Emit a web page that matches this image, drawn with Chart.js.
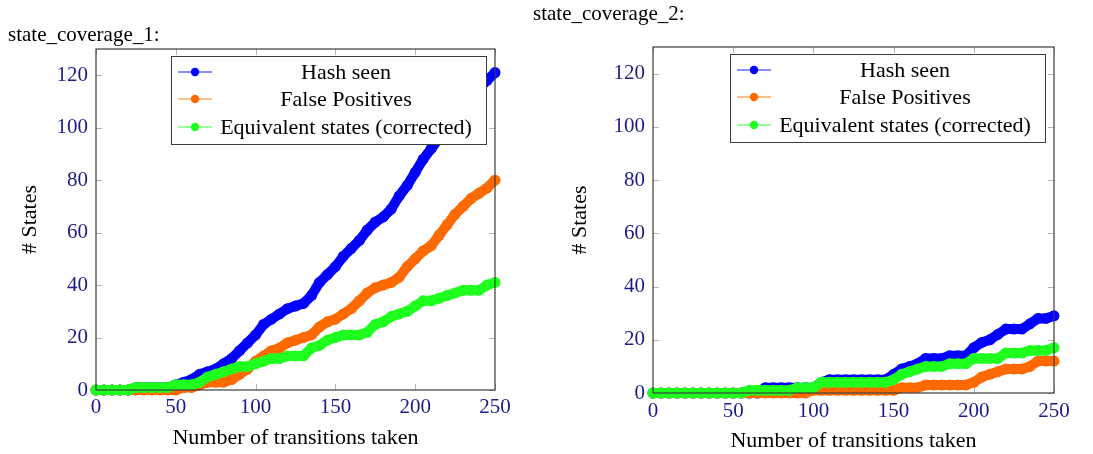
<!DOCTYPE html>
<html>
<head>
<meta charset="utf-8">
<script src="https://cdn.jsdelivr.net/npm/chart.js@4.4.0/dist/chart.umd.min.js"></script>
<style>
body{margin:0;background:#fff;width:1093px;height:454px;overflow:hidden;position:relative;font-family:"Liberation Serif","DejaVu Serif",serif}
.box{position:absolute;top:0;width:545px;height:454px}
.ttl{position:absolute;font-size:21px;color:#000;white-space:nowrap}
</style>
</head>
<body>
<div class="box" style="left:0"><canvas id="c1" width="545" height="454"></canvas></div>
<div class="box" style="left:548px"><canvas id="c2" width="545" height="454"></canvas></div>
<div class="ttl" style="left:8px;top:22px">state_coverage_1:</div>
<div class="ttl" style="left:533px;top:1px">state_coverage_2:</div>
<script>
// x values (number of transitions), sampled every 5
const transitions = [0,5,10,15,20,25,30,35,40,45,50,55,60,65,70,75,80,85,90,95,100,105,110,115,120,125,130,135,140,145,150,155,160,165,170,175,180,185,190,195,200,205,210,215,220,225,230,235,240,245,250];
const xTicks = [0,50,100,150,200,250];
const yTicks = [0,20,40,60,80,100,120];
const seriesNames = ['Hash seen','False Positives','Equivalent states (corrected)'];

// state_coverage_1
const hashSeen1 = [0,0,0,0,0,1,1,1,1,1,2,3,4,6,7,8,10,12,15,18,21,25,27,29,31,32,33,36,41,44,47,51,54,57,61,64,66,69,74,78,83,88,92,96,100,104,108,112,115,118,121];
const falsePos1 = [0,0,0,0,0,0,0,0,0,0,0,1,1,2,3,3,3,4,6,8,11,13,15,16,18,19,20,21,24,26,27,29,31,34,37,39,40,41,43,47,50,53,55,59,63,67,70,73,75,77,80];
const equiv1    = [0,0,0,0,0,1,1,1,1,1,2,2,2,3,5,6,7,8,9,9,10,11,12,12,13,13,13,16,17,19,20,21,21,21,22,25,26,28,29,30,32,34,34,35,36,37,38,38,38,40,41];

// state_coverage_2
const hashSeen2 = [0,0,0,0,0,0,0,0,0,0,0,0,0,0,2,2,2,2,2,2,2,4,5,5,5,5,5,5,5,5,7,9,10,11,13,13,13,14,14,14,17,19,20,22,24,24,24,26,28,28,29];
const falsePos2 = [0,0,0,0,0,0,0,0,0,0,0,0,0,0,0,0,0,0,0,0,1,1,1,1,1,1,1,1,1,1,1,2,2,2,3,3,3,3,3,3,4,6,7,8,9,9,9,10,12,12,12];
const equiv2    = [0,0,0,0,0,0,0,0,0,0,0,0,1,1,1,1,1,1,2,2,2,4,4,4,4,4,4,4,4,4,5,7,8,9,10,10,10,11,11,11,13,13,13,13,15,15,15,16,16,16,17];

const colors = ['#0000ff','#ff6a00','#1eff1e'];
const navy = '#1c1c88';
const FONT = '"Liberation Serif","DejaVu Serif",serif';

// inner ticks, frame and pgfplots-like legend
const pgfDeco = {
  id: 'pgfDeco',
  beforeDatasetsDraw(chart) {
    const {ctx, chartArea: a, scales} = chart;
    ctx.save();
    ctx.strokeStyle = '#b4b4b4';
    ctx.lineWidth = 1;
    ctx.beginPath();
    xTicks.forEach(v => {
      const x = Math.round(scales.x.getPixelForValue(v)) + 0.5;
      ctx.moveTo(x, a.bottom); ctx.lineTo(x, a.bottom - 6);
      ctx.moveTo(x, a.top); ctx.lineTo(x, a.top + 6);
    });
    yTicks.forEach(v => {
      const y = Math.round(scales.y.getPixelForValue(v)) + 0.5;
      ctx.moveTo(a.left, y); ctx.lineTo(a.left + 6, y);
      ctx.moveTo(a.right, y); ctx.lineTo(a.right - 6, y);
    });
    ctx.stroke();
    ctx.restore();
  },
  afterDatasetsDraw(chart) {
    const {ctx, chartArea: a} = chart;
    ctx.save();
    ctx.strokeStyle = '#3c3c3c';
    ctx.lineWidth = 1.2;
    ctx.strokeRect(a.left, a.top, a.right - a.left, a.bottom - a.top);

    const w = 315, h = 88;
    const bx = a.right - 9 - w, by = a.top + 7;
    ctx.fillStyle = '#fff';
    ctx.fillRect(bx, by, w, h);
    ctx.strokeStyle = '#3c3c3c';
    ctx.lineWidth = 1;
    ctx.strokeRect(bx + 0.5, by + 0.5, w, h);
    const rows = [16, 43, 71];
    chart.data.datasets.forEach((ds, i) => {
      const y = by + rows[i];
      ctx.globalAlpha = 0.6;
      ctx.strokeStyle = ds.backgroundColor;
      ctx.lineWidth = 1.5;
      ctx.beginPath(); ctx.moveTo(bx + 7, y); ctx.lineTo(bx + 41, y); ctx.stroke();
      ctx.globalAlpha = 1;
      ctx.fillStyle = ds.backgroundColor;
      ctx.beginPath(); ctx.arc(bx + 24, y, 4.2, 0, Math.PI * 2); ctx.fill();
      ctx.fillStyle = '#000';
      ctx.font = '22px ' + FONT;
      ctx.textAlign = 'center';
      ctx.textBaseline = 'middle';
      ctx.fillText(ds.label, bx + 175, y + 1);
    });
    ctx.restore();
  }
};

function makeChart(id, values, L) {
  const datasets = values.map((vals, i) => ({
    label: seriesNames[i],
    data: transitions.map((x, k) => ({x: x, y: vals[k]})),
    borderColor: colors[i],
    backgroundColor: colors[i],
    borderWidth: 10,
    borderJoinStyle: 'round',
    borderCapStyle: 'round',
    pointRadius: 5.5,
    pointBorderWidth: 0,
    pointBackgroundColor: colors[i],
    tension: 0,
    clip: 10,
    order: 3 - i
  }));
  return new Chart(document.getElementById(id), {
    type: 'line',
    data: {datasets: datasets},
    plugins: [pgfDeco],
    options: {
      responsive: false,
      animation: false,
      devicePixelRatio: 1,
      layout: {padding: {left: L.pl, right: L.pr, top: L.pt, bottom: 0}},
      plugins: {legend: {display: false}, tooltip: {enabled: false}},
      scales: {
        x: {
          type: 'linear', min: 0, max: 250,
          afterBuildTicks: s => { s.ticks = xTicks.map(v => ({value: v})); },
          afterFit: s => { s.height = L.xh; },
          grid: {display: false, drawTicks: false}, border: {display: false},
          ticks: {color: navy, font: {family: FONT, size: 21}, padding: L.xp, maxRotation: 0, autoSkip: false},
          title: {display: true, text: 'Number of transitions taken', color: '#000',
                  font: {family: FONT, size: 22}, padding: {top: 0, bottom: L.xtp}}
        },
        y: {
          min: 0, max: 130,
          afterBuildTicks: s => { s.ticks = yTicks.map(v => ({value: v})); },
          afterFit: s => { s.width = L.yw; },
          grid: {display: false, drawTicks: false}, border: {display: false},
          ticks: {color: navy, font: {family: FONT, size: 21}, padding: 8},
          title: {display: true, text: '# States', color: '#000',
                  font: {family: FONT, size: 22}, padding: {top: 0, bottom: 0}}
        }
      }
    }
  });
}

makeChart('c1', [hashSeen1, falsePos1, equiv1], {pl: 17, pr: 50, pt: 49, yw: 79, xh: 64, xtp: 3, xp: 5});
makeChart('c2', [hashSeen2, falsePos2, equiv2], {pl: 19, pr: 39, pt: 47, yw: 86, xh: 61, xtp: 0, xp: 6});
</script>
</body>
</html>
